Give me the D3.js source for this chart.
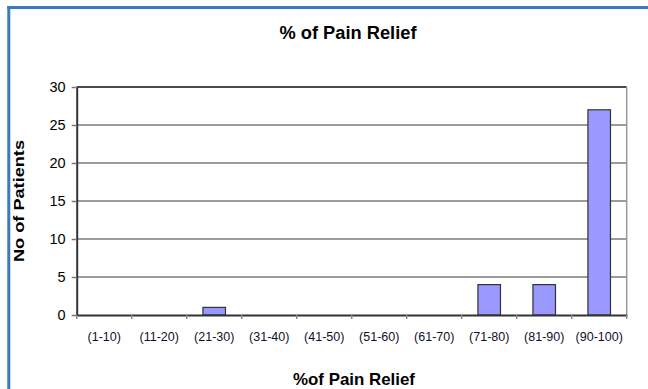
<!DOCTYPE html>
<html><head><meta charset="utf-8">
<script src="https://cdn.jsdelivr.net/npm/d3@7"></script>
<style>html,body{margin:0;padding:0;background:#fff;}svg{display:block;}</style>
</head><body>
<script>
const categories = ["(1-10)","(11-20)","(21-30)","(31-40)","(41-50)","(51-60)","(61-70)","(71-80)","(81-90)","(90-100)"];
const patients = [0,0,1,0,0,0,0,4,4,27];
const yTicks = [0,5,10,15,20,25,30];
const title = "% of Pain Relief";
const xTitle = "%of Pain Relief";
const yTitle = "No of Patients";

const W = 648, H = 389;
const svg = d3.select("body").append("svg").attr("width", W).attr("height", H);
const font = "'Liberation Sans', Arial, sans-serif";

// frame
svg.append("line").attr("x1", 8.8).attr("x2", 8.8).attr("y1", 6).attr("y2", H).attr("stroke", "#3a7abd").attr("stroke-width", 3);
svg.append("line").attr("x1", 7.3).attr("x2", W).attr("y1", 7.5).attr("y2", 7.5).attr("stroke", "#3a7abd").attr("stroke-width", 3);

const L = 76.7, R = 626.7, T = 87, B = 315;
const x = d3.scaleBand().domain(categories).range([L, R]).padding(0);
const y = d3.scaleLinear().domain([0, 30]).range([B, T]);

// gridlines
svg.append("g").selectAll("line").data(yTicks.filter(d => d > 0)).join("line")
  .attr("x1", L).attr("x2", R).attr("y1", d => y(d)).attr("y2", d => y(d))
  .attr("stroke", d => d === 30 ? "#4a4a4a" : "#7a7a7a").attr("stroke-width", d => d === 30 ? 2 : 1.5);
// right border
svg.append("line").attr("x1", R).attr("x2", R).attr("y1", T).attr("y2", B).attr("stroke", "#999").attr("stroke-width", 1.5);

// bars
const bw = x.bandwidth() * 0.41;
svg.append("g").selectAll("rect").data(categories.map((c, i) => ({c, v: patients[i]})).filter(d => d.v > 0)).join("rect")
  .attr("x", d => x(d.c) + x.bandwidth() / 2 - bw / 2)
  .attr("width", bw)
  .attr("y", d => y(d.v))
  .attr("height", d => y(0) - y(d.v))
  .attr("fill", "#9999ff").attr("stroke", "#333").attr("stroke-width", 1.2);

// y axis
const yAxis = svg.append("g").attr("transform", `translate(${L},0)`)
  .call(d3.axisLeft(y).tickValues(yTicks).tickSize(5).tickPadding(6).tickSizeOuter(0));
yAxis.select(".domain").attr("stroke", "#333").attr("stroke-width", 2);
yAxis.selectAll(".tick line").attr("stroke", "#777").attr("stroke-width", 1.5);
yAxis.selectAll("text").attr("font-family", font).attr("font-size", 14.5).attr("fill", "#000");

// x axis
const xAxis = svg.append("g").attr("transform", `translate(0,${B})`)
  .call(d3.axisBottom(x).tickSize(0).tickPadding(17).tickSizeOuter(0));
xAxis.select(".domain").attr("stroke", "#333").attr("stroke-width", 2);
xAxis.selectAll("text").attr("font-family", font).attr("font-size", 12.5).attr("fill", "#10102a");
// boundary ticks
const bounds = categories.map(c => x(c)).concat([R]);
svg.append("g").selectAll("line").data(bounds).join("line")
  .attr("x1", d => d).attr("x2", d => d).attr("y1", B).attr("y2", B + 4)
  .attr("stroke", "#888").attr("stroke-width", 1.5);

// titles
svg.append("text").attr("x", 348).attr("y", 39).attr("text-anchor", "middle")
  .attr("font-family", font).attr("font-weight", "bold").attr("font-size", 18).attr("fill", "#000")
  .attr("textLength", 137).attr("lengthAdjust", "spacingAndGlyphs").text(title);
svg.append("text").attr("x", 354).attr("y", 385).attr("text-anchor", "middle")
  .attr("font-family", font).attr("font-weight", "bold").attr("font-size", 17).attr("fill", "#000")
  .attr("textLength", 122).attr("lengthAdjust", "spacingAndGlyphs").text(xTitle);
svg.append("text").attr("transform", "translate(24,201) rotate(-90)").attr("text-anchor", "middle")
  .attr("font-family", font).attr("font-weight", "bold").attr("font-size", 15).attr("fill", "#000")
  .attr("textLength", 122).attr("lengthAdjust", "spacingAndGlyphs").text(yTitle);
</script>
</body></html>
